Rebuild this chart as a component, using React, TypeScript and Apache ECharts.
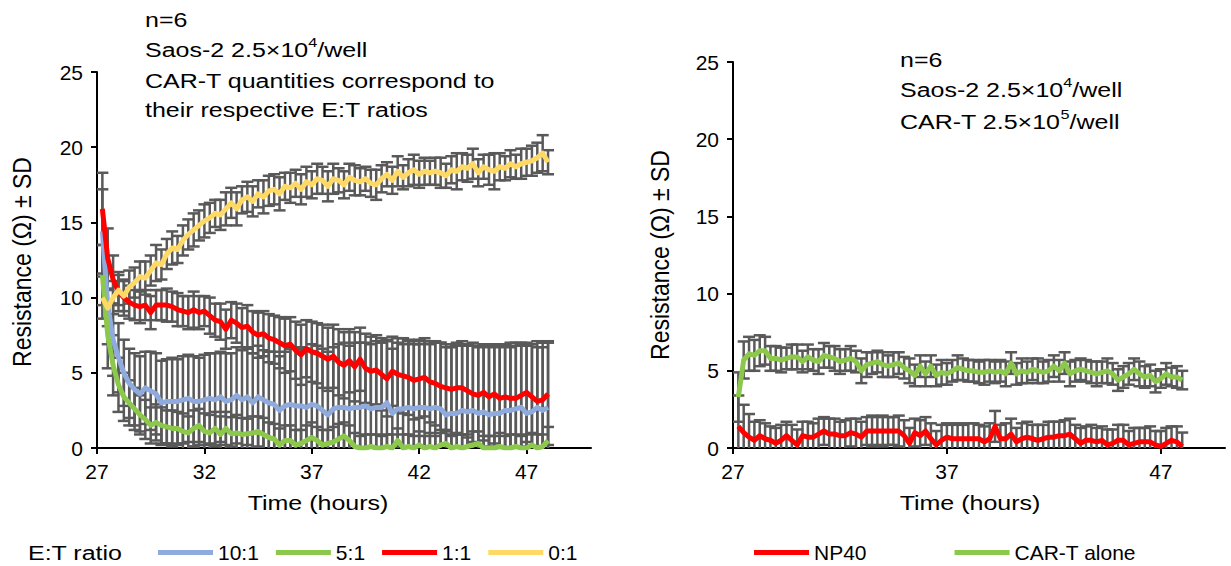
import React, { useEffect, useRef } from "react";
import * as echarts from "echarts";

const FONT = "'Liberation Sans', Arial, Helvetica, sans-serif";

// time points (hours)
const times = [
  27.25, 27.5, 27.75, 28,
  28.25, 28.5, 28.75, 29,
  29.25, 29.5, 29.75, 30,
  30.25, 30.5, 30.75, 31,
  31.25, 31.5, 31.75, 32,
  32.25, 32.5, 32.75, 33,
  33.25, 33.5, 33.75, 34,
  34.25, 34.5, 34.75, 35,
  35.25, 35.5, 35.75, 36,
  36.25, 36.5, 36.75, 37,
  37.25, 37.5, 37.75, 38,
  38.25, 38.5, 38.75, 39,
  39.25, 39.5, 39.75, 40,
  40.25, 40.5, 40.75, 41,
  41.25, 41.5, 41.75, 42,
  42.25, 42.5, 42.75, 43,
  43.25, 43.5, 43.75, 44,
  44.25, 44.5, 44.75, 45,
  45.25, 45.5, 45.75, 46,
  46.25, 46.5, 46.75, 47,
  47.25, 47.5, 47.75, 48,
];

// Left panel: E:T ratios
const ratio10 = [
  14.4, 9.5, 7.2, 6.0,
  5.0, 4.3, 3.9, 3.6,
  4.0, 3.8, 3.6, 3.0,
  3.1, 3.1, 3.1, 3.2,
  3.3, 3.1, 3.1, 3.2,
  3.3, 3.2, 3.4, 3.1,
  3.2, 3.5, 3.2, 3.4,
  3.0, 3.4, 3.2, 3.0,
  2.9, 2.5, 2.8, 2.9,
  2.8, 2.8, 2.7, 2.9,
  2.8, 2.5, 2.2, 2.6,
  2.7, 2.7, 2.6, 2.7,
  2.7, 2.8, 2.6, 2.7,
  2.7, 3.0, 2.3, 2.6,
  2.6, 2.7, 2.6, 2.7,
  2.7, 2.6, 2.7, 2.6,
  2.2, 2.3, 2.3, 2.5,
  2.4, 2.5, 2.3, 2.4,
  2.2, 2.3, 2.3, 2.5,
  2.5, 2.6, 2.7, 2.3,
  2.4, 2.7, 2.5, 2.7,
];
const ratio10SD = [
  2.8, 2.6, 2.4, 2.3,
  2.2, 2.3, 2.4, 2.5,
  2.4, 2.6, 2.7, 2.8,
  2.8, 2.9, 2.8, 2.9,
  2.9, 3.0, 2.9, 3.0,
  3.0, 3.1, 3.0, 3.2,
  3.1, 3.2, 3.3, 3.2,
  3.3, 3.4, 3.3, 3.4,
  3.5, 3.6, 3.6, 3.7,
  3.8, 3.9, 3.9, 4.0,
  4.0, 4.1, 4.2, 4.1,
  4.2, 4.3, 4.2, 4.3,
  4.3, 4.2, 4.3, 4.4,
  4.3, 4.2, 4.3, 4.4,
  4.3, 4.4, 4.3, 4.2,
  4.4, 4.3, 4.3, 4.4,
  4.5, 4.4, 4.5, 4.4,
  4.4, 4.5, 4.4, 4.5,
  4.6, 4.5, 4.5, 4.4,
  4.5, 4.4, 4.3, 4.5,
  4.5, 4.4, 4.5, 4.4,
];

const ratio5 = [
  11.5, 7.5, 5.5, 4.2,
  3.4, 3.0, 2.6, 2.2,
  1.9, 1.5, 1.7, 1.5,
  1.4, 1.3, 1.3, 1.1,
  1.0, 1.3, 1.5, 1.1,
  1.0, 1.3, 0.9, 1.3,
  0.95, 1.0, 0.9, 0.95,
  1.0, 1.1, 0.9, 0.7,
  0.6, 0.2, 0.5, 0.5,
  0.2, 0.3, 0.5, 0.7,
  0.5, 0.2, 0.3, 0.4,
  0.6, 0.8, 0.5, 0.1,
  0.0, 0.0, 0.1, 0.0,
  0.0, 0.1, 0.0, 0.5,
  0.0, 0.1, 0.0, 0.2,
  0.0, 0.1, 0.0, 0.2,
  0.3, 0.0, 0.1, 0.0,
  0.1, 0.2, 0.3, 0.0,
  0.0, 0.0, 0.1, 0.0,
  0.0, 0.1, 0.0, 0.0,
  0.2, 0.0, 0.1, 0.5,
];
const ratio5SD = [
  2.0, 2.2, 2.0, 1.8,
  1.6, 1.5, 1.4, 1.3,
  1.3, 1.2, 1.2, 1.2,
  1.1, 1.2, 1.1, 1.2,
  1.1, 1.2, 1.1, 1.2,
  1.2, 1.1, 1.2, 1.1,
  1.1, 1.2, 1.1, 1.0,
  1.1, 1.0, 1.1, 1.0,
  1.0, 1.1, 1.0, 1.0,
  1.0, 0.9, 1.0, 1.0,
  0.9, 1.0, 0.9, 1.0,
  1.0, 0.9, 1.0, 0.9,
  0.8, 0.9, 0.8, 0.9,
  0.8, 0.8, 0.9, 0.8,
  0.9, 0.8, 0.8, 0.9,
  0.8, 0.9, 0.8, 0.8,
  0.9, 0.8, 0.8, 0.9,
  0.8, 0.9, 0.8, 0.8,
  0.8, 0.8, 0.9, 0.8,
  0.9, 0.8, 0.8, 0.9,
  0.8, 0.9, 0.8, 0.9,
];

const ratio1 = [
  15.9, 12.6, 11.2, 10.4,
  10.0, 9.7, 9.5, 9.4,
  9.5, 9.0, 9.5, 9.5,
  9.5, 9.4, 9.2, 9.1,
  9.0, 9.2, 9.0, 9.1,
  8.8, 8.5, 8.4, 7.9,
  8.5, 8.3, 8.0, 8.1,
  7.7, 7.5, 7.6, 7.3,
  7.2, 7.0, 6.8, 6.9,
  6.5, 6.2, 6.6, 6.4,
  6.3, 6.1, 5.9, 6.1,
  5.7, 5.5, 5.8, 5.4,
  5.9, 5.3, 5.1, 5.2,
  4.9, 4.6, 5.1, 4.9,
  4.8, 4.7, 4.5, 4.6,
  4.7, 4.4, 4.3, 4.1,
  4.0, 3.9, 4.0, 4.0,
  3.8, 3.6, 3.5, 3.7,
  3.4, 3.6, 3.3, 3.4,
  3.3, 3.3, 3.5, 3.7,
  3.4, 3.1, 3.2, 3.6,
];
const ratio1SD = [
  2.4, 2.0, 1.6, 1.3,
  1.2, 1.1, 1.0, 1.1,
  1.0, 1.1, 1.0, 1.0,
  1.1, 1.0, 1.1, 1.0,
  1.1, 1.2, 1.1, 1.0,
  1.2, 1.1, 1.2, 1.3,
  1.2, 1.3, 1.3, 1.4,
  1.4, 1.5, 1.5, 1.6,
  1.6, 1.7, 1.8, 1.8,
  1.9, 2.0, 1.9, 2.0,
  2.0, 2.1, 2.1, 2.1,
  2.2, 2.2, 2.1, 2.3,
  2.1, 2.3, 2.3, 2.3,
  2.4, 2.5, 2.3, 2.4,
  2.5, 2.5, 2.6, 2.6,
  2.6, 2.7, 2.8, 2.9,
  2.9, 3.0, 3.0, 3.1,
  3.1, 3.2, 3.3, 3.2,
  3.3, 3.3, 3.4, 3.4,
  3.4, 3.5, 3.4, 3.3,
  3.5, 3.6, 3.5, 3.4,
];

const ratio0 = [
  10.0, 9.3, 10.0, 10.5,
  10.1, 10.7, 11.0, 11.4,
  11.3, 11.8, 12.3, 12.2,
  12.9, 13.3, 13.2, 13.8,
  14.2, 14.5, 14.8, 15.1,
  15.3, 15.6, 15.5, 15.9,
  16.3, 15.9, 16.5, 16.7,
  16.4, 16.9, 16.7, 17.1,
  17.2, 16.9, 17.4, 17.3,
  17.6, 17.2, 17.7, 17.5,
  17.9, 17.8, 17.4, 17.9,
  17.8, 17.5, 18.0, 17.8,
  17.7, 17.9, 17.6, 17.5,
  17.9, 18.2, 17.8, 18.4,
  18.0, 18.3, 18.5, 18.2,
  18.4, 18.3, 18.4, 18.3,
  18.1, 18.5, 18.4, 18.7,
  18.6, 18.9, 18.3, 18.7,
  18.5, 18.4, 18.7, 18.6,
  18.9, 18.7, 18.9, 19.0,
  19.1, 19.3, 19.6, 19.0,
];
const ratio0SD = [
  1.4, 1.2, 1.1, 1.0,
  1.0, 1.1, 1.0, 1.0,
  1.1, 1.0, 1.2, 1.0,
  1.0, 1.1, 0.9, 1.0,
  1.0, 1.1, 1.0, 1.1,
  1.0, 0.9, 1.0, 1.1,
  1.0, 1.1, 0.9, 1.0,
  1.0, 0.9, 1.1, 1.0,
  1.0, 1.1, 0.9, 1.0,
  0.9, 1.0, 1.0, 0.9,
  1.0, 0.9, 1.0, 1.0,
  0.8, 0.9, 0.9, 1.0,
  0.9, 0.8, 0.9, 1.0,
  0.9, 0.8, 0.9, 1.0,
  0.8, 0.9, 1.0, 0.9,
  0.9, 0.8, 0.9, 1.0,
  0.8, 0.9, 1.2, 0.9,
  0.9, 1.0, 0.9, 0.8,
  1.0, 1.2, 0.9, 0.8,
  0.9, 0.8, 1.0, 0.9,
  1.0, 1.0, 1.2, 0.8,
];

// Right panel
const carTAlone = [
  3.3, 5.7, 6.1, 6.0,
  6.3, 6.3, 5.8, 5.8,
  5.7, 5.8, 5.9, 5.9,
  5.6, 5.9, 5.7, 5.6,
  6.0, 5.9, 5.8, 5.6,
  5.7, 5.8, 5.6, 5.0,
  5.4, 5.5, 5.6, 5.4,
  5.3, 5.4, 5.5, 5.2,
  5.0, 4.7, 5.3, 4.8,
  5.3, 4.7, 4.9, 4.8,
  5.0, 5.2, 5.1, 5.0,
  5.0, 4.9, 4.9, 5.0,
  4.9, 5.0, 4.8, 5.5,
  4.8, 5.0, 4.9, 5.1,
  5.0, 4.9, 5.0, 5.3,
  5.0, 5.5, 4.8, 5.0,
  5.1, 5.0, 4.9, 4.8,
  4.9, 5.0, 4.8, 4.4,
  4.6, 4.8, 5.1, 4.8,
  4.6, 4.7, 4.3, 4.5,
  4.8, 4.6, 4.6, 4.4,
];
const carTAloneSD = [
  1.6, 1.2, 1.1, 1.0,
  1.0, 0.9, 0.8, 0.8,
  0.8, 0.7, 0.8, 0.8,
  0.7, 0.8, 0.7, 0.8,
  0.8, 0.7, 0.8, 0.8,
  0.7, 0.8, 0.7, 0.8,
  0.8, 0.7, 0.7, 0.8,
  0.7, 0.8, 0.7, 0.7,
  0.8, 0.7, 0.7, 0.8,
  0.7, 0.7, 0.8, 0.7,
  0.7, 0.8, 0.7, 0.7,
  0.7, 0.7, 0.8, 0.7,
  0.7, 0.7, 0.8, 0.7,
  0.7, 0.8, 0.7, 0.7,
  0.8, 0.7, 0.7, 0.7,
  0.7, 0.7, 0.8, 0.7,
  0.7, 0.7, 0.7, 0.8,
  0.7, 0.8, 0.7, 0.7,
  0.7, 0.7, 0.7, 0.8,
  0.7, 0.7, 0.7, 0.6,
  0.7, 0.6, 0.7, 0.6,
];

const np40 = [
  1.4, 1.0, 0.7, 0.5,
  0.8, 0.6, 0.5, 0.3,
  0.5, 0.8, 0.5, 0.2,
  0.8, 0.7, 0.7, 0.9,
  1.1, 0.9, 0.9, 0.8,
  0.8, 1.0, 0.9, 0.7,
  1.1, 1.1, 1.1, 1.1,
  1.1, 1.1, 1.1, 0.8,
  0.3, 1.0, 0.8, 1.1,
  0.6, 0.2, 0.5, 0.7,
  0.6, 0.6, 0.6, 0.6,
  0.6, 0.6, 0.4, 0.6,
  1.4, 0.6, 0.6, 0.9,
  0.4, 0.6, 0.7, 0.6,
  0.5, 0.6, 0.7, 0.7,
  0.8, 0.8, 0.9, 0.6,
  0.3, 0.5, 0.5, 0.4,
  0.5, 0.2, 0.3, 0.5,
  0.5, 0.2, 0.3, 0.4,
  0.4, 0.4, 0.2, 0.1,
  0.3, 0.5, 0.4, 0.1,
];
const np40SD = [
  2.0, 1.8, 1.5, 1.2,
  1.0, 1.0, 0.9, 1.0,
  1.0, 0.9, 1.0, 1.0,
  0.9, 1.0, 0.9, 1.0,
  0.9, 1.0, 1.0, 0.9,
  1.0, 0.9, 1.0, 1.0,
  0.9, 1.0, 0.9, 1.0,
  0.9, 0.9, 1.0, 1.0,
  1.0, 0.9, 1.0, 0.9,
  1.0, 0.9, 1.0, 0.9,
  0.9, 1.0, 0.9, 1.0,
  1.0, 0.9, 1.0, 1.0,
  1.0, 0.9, 1.0, 1.0,
  0.9, 1.0, 1.0, 0.9,
  1.0, 0.9, 1.0, 1.0,
  0.9, 1.0, 1.0, 0.9,
  1.0, 0.9, 1.0, 0.9,
  0.9, 1.0, 0.9, 1.0,
  1.0, 0.9, 1.0, 0.9,
  0.9, 1.0, 0.9, 1.0,
  1.0, 0.9, 1.0, 0.9,
];

const leftTicks = [27, 32, 37, 42, 47];
const rightTicks = [27, 37, 47];

const COLORS = {
  blue: "#8FAADC",
  green: "#8CC84B",
  red: "#FF0000",
  yellow: "#FFD966",
  bar: "#595959",
};

// The reference picture is stretched horizontally; texts drawn as graphics copy that.
const STRETCH = 1.25;

function errorSeries(name: string, idx: number, vals: number[], sds: number[]) {
  return {
    type: "custom",
    name,
    xAxisIndex: idx,
    yAxisIndex: idx,
    clip: true,
    z: 1,
    silent: true,
    encode: { x: 0, y: 1 },
    data: times.map((t, i) => [t, vals[i], sds[i]]),
    renderItem: (params: any, api: any) => {
      const x = api.value(0);
      const m = api.value(1);
      const s = api.value(2);
      const top = api.coord([x, m + s]);
      const bot = api.coord([x, m - s]);
      const hw = 6;
      const st = { stroke: COLORS.bar, lineWidth: 2.5 };
      return {
        type: "group",
        children: [
          { type: "line", shape: { x1: top[0], y1: top[1], x2: bot[0], y2: bot[1] }, style: st },
          { type: "line", shape: { x1: top[0] - hw, y1: top[1], x2: top[0] + hw, y2: top[1] }, style: st },
          { type: "line", shape: { x1: bot[0] - hw, y1: bot[1], x2: bot[0] + hw, y2: bot[1] }, style: st },
        ],
      };
    },
  };
}

function lineSeries(name: string, idx: number, vals: number[], color: string) {
  return {
    type: "line",
    name,
    xAxisIndex: idx,
    yAxisIndex: idx,
    showSymbol: false,
    symbol: "none",
    z: 3,
    color,
    lineStyle: { color, width: 5, join: "round" },
    data: times.map((t, i) => [t, vals[i]]),
  };
}

function xAxisDef(idx: number, ticks: number[]) {
  return {
    gridIndex: idx,
    type: "value",
    min: 27,
    max: 50,
    axisLine: { show: true, lineStyle: { color: "#000", width: 2 } },
    axisTick: { show: true, length: 6, customValues: ticks, lineStyle: { color: "#000", width: 2 } },
    axisLabel: { customValues: ticks, fontSize: 21, color: "#000", fontFamily: FONT, margin: 13 },
    splitLine: { show: false },
  };
}

function yAxisDef(idx: number) {
  return {
    gridIndex: idx,
    type: "value",
    min: 0,
    max: 25,
    interval: 5,
    axisLine: { show: true, lineStyle: { color: "#000", width: 2 } },
    axisTick: { show: true, length: 6, lineStyle: { color: "#000", width: 2 } },
    axisLabel: { fontSize: 21, color: "#000", fontFamily: FONT, margin: 14 },
    splitLine: { show: false },
  };
}

function txt(x: number, y: number, text: string, extra: any = {}) {
  return {
    type: "text",
    x,
    y,
    scaleX: STRETCH,
    silent: true,
    style: {
      text,
      fill: "#000",
      fontSize: 20,
      fontFamily: FONT,
      textAlign: "left",
      textVerticalAlign: "middle",
      ...extra,
    },
  };
}

function supTxt(x: number, y: number, before: string, sup: string, after: string) {
  return {
    type: "text",
    x,
    y,
    scaleX: STRETCH,
    silent: true,
    style: {
      text: `{a|${before}}{s|${sup}}{a|${after}}`,
      textAlign: "left",
      textVerticalAlign: "middle",
      rich: {
        a: { fontSize: 20, fontFamily: FONT, fill: "#000", color: "#000", lineHeight: 24, verticalAlign: "bottom" },
        s: { fontSize: 13, fontFamily: FONT, fill: "#000", color: "#000", lineHeight: 13, verticalAlign: "top" },
      },
    },
  };
}

function yTitle(x: number, y: number) {
  return {
    type: "text",
    x,
    y,
    rotation: Math.PI / 2,
    scaleY: 1.15,
    silent: true,
    style: {
      text: "Resistance (Ω) ± SD",
      fill: "#000",
      fontSize: 23,
      fontFamily: FONT,
      textAlign: "center",
      textVerticalAlign: "middle",
    },
  };
}

export default function App() {
  const ref = useRef<HTMLDivElement>(null);
  useEffect(() => {
    document.body.style.margin = "0";
    if (!ref.current) return;
    const chart = echarts.init(ref.current, null, { renderer: "svg" });
    const legendText = { fontSize: 21, color: "#000", fontFamily: FONT };
    chart.setOption({
      animation: false,
      backgroundColor: "#fff",
      grid: [
        { left: 97, top: 72, width: 494, height: 376 },
        { left: 733, top: 62, width: 492, height: 386 },
      ],
      xAxis: [xAxisDef(0, leftTicks), xAxisDef(1, rightTicks)],
      yAxis: [yAxisDef(0), yAxisDef(1)],
      legend: [
        {
          left: 153,
          top: 537,
          data: ["10:1", "5:1", "1:1", "0:1"],
          icon: "rect",
          itemWidth: 55,
          itemHeight: 5,
          itemGap: 17,
          selectedMode: false,
          textStyle: legendText,
        },
        {
          left: 749,
          top: 537,
          data: ["NP40", "CAR-T alone"],
          icon: "rect",
          itemWidth: 55,
          itemHeight: 5,
          itemGap: 88,
          selectedMode: false,
          textStyle: legendText,
        },
      ],
      series: [
        errorSeries("e10", 0, ratio10, ratio10SD),
        errorSeries("e5", 0, ratio5, ratio5SD),
        errorSeries("e1", 0, ratio1, ratio1SD),
        errorSeries("e0", 0, ratio0, ratio0SD),
        errorSeries("eNP", 1, np40, np40SD),
        errorSeries("eCT", 1, carTAlone, carTAloneSD),
        lineSeries("10:1", 0, ratio10, COLORS.blue),
        lineSeries("5:1", 0, ratio5, COLORS.green),
        lineSeries("1:1", 0, ratio1, COLORS.red),
        lineSeries("0:1", 0, ratio0, COLORS.yellow),
        lineSeries("NP40", 1, np40, COLORS.red),
        lineSeries("CAR-T alone", 1, carTAlone, COLORS.green),
      ],
      graphic: [
        txt(145, 20, "n=6"),
        supTxt(145, 48, "Saos-2 2.5×10", "4", "/well"),
        txt(145, 81, "CAR-T quantities correspond to"),
        txt(145, 110, "their respective E:T ratios"),
        txt(900, 60, "n=6"),
        supTxt(900, 88, "Saos-2 2.5×10", "4", "/well"),
        supTxt(900, 120, "CAR-T 2.5×10", "5", "/well"),
        yTitle(22, 262),
        yTitle(660, 255),
        txt(318, 503, "Time (hours)", { textAlign: "center" }),
        txt(970, 503, "Time (hours)", { textAlign: "center" }),
        txt(28, 553, "E:T ratio"),
      ],
    });
    return () => chart.dispose();
  }, []);
  return <div ref={ref} style={{ width: 1231, height: 566 }} />;
}
